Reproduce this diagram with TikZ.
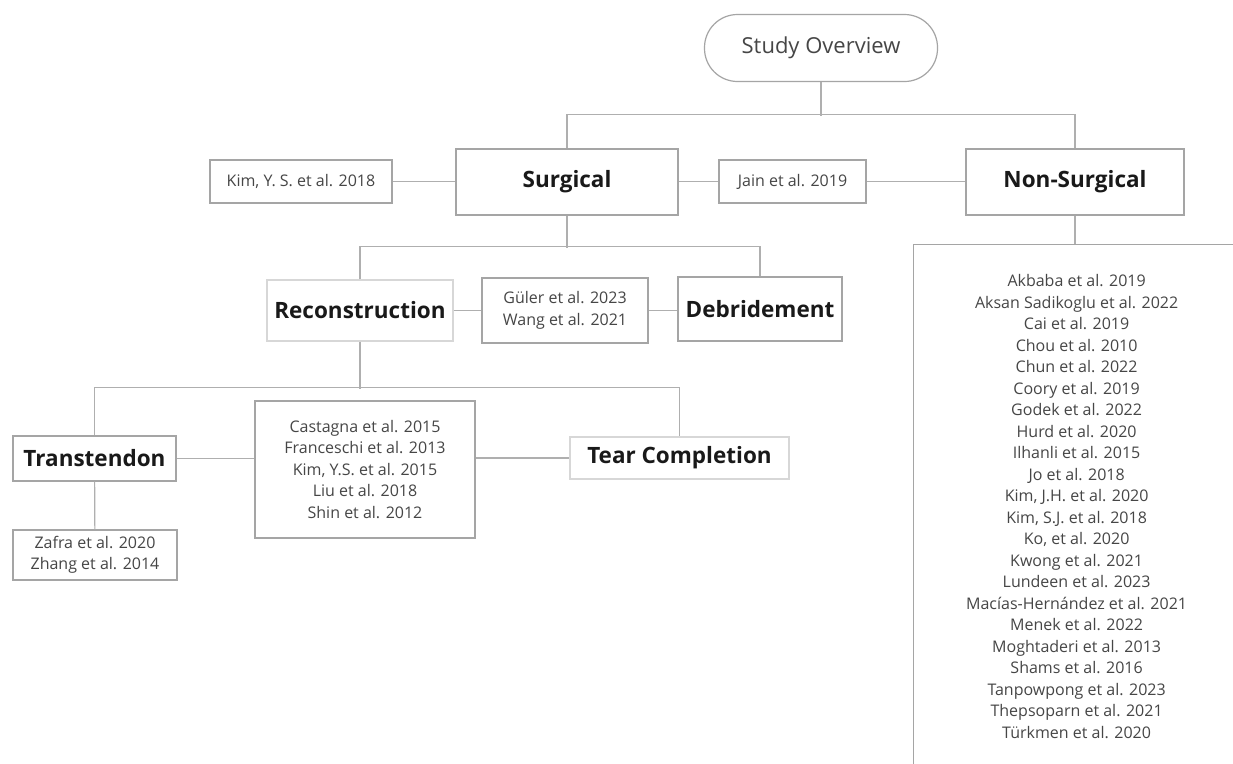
\documentclass[tikz,border=0pt]{standalone}
\usepackage{fontspec}
\setmainfont{Open Sans}
\definecolor{linec}{RGB}{175,175,175}
\definecolor{boxc}{RGB}{165,165,165}
\definecolor{lightboxc}{RGB}{215,215,215}
\definecolor{textc}{RGB}{70,70,70}
\definecolor{headc}{RGB}{25,25,25}
\begin{document}
\begin{tikzpicture}[x=1pt,y=-1pt,
  conn/.style={draw=linec, line width=1.2pt},
  box/.style={draw=boxc, line width=1.2pt, fill=white, inner sep=0pt, align=center},
  head/.style={box, font=\fontsize{22.5}{26}\selectfont\bfseries, text=headc},
  cite/.style={box, font=\fontsize{16}{21.5}\selectfont, text=textc},
  lightbox/.style={draw=lightboxc}]
\clip (0,0) rectangle (1233,763);
\fill[white] (0,0) rectangle (1233,763);

\node[box, rounded corners=33pt, minimum width=233pt, minimum height=67pt,
      font=\fontsize{22}{26}\selectfont, text=textc] (study) at (821,48) {Study Overview};
\node[head, minimum width=222pt, minimum height=66pt] (surg) at (567,182) {Surgical};
\node[cite, minimum width=182pt, minimum height=43pt] (kim) at (301,181.5) {Kim, Y. S. et al. 2018};
\node[cite, minimum width=147pt, minimum height=43pt] (jain) at (792.5,181.5) {Jain et al. 2019};
\node[head, minimum width=218pt, minimum height=66pt] (ns) at (1075,182) {Non-Surgical};

\node[head, lightbox, minimum width=186pt, minimum height=61pt] (recon) at (360,310.5) {Reconstruction};
\node[cite, minimum width=166pt, minimum height=65pt] (guler) at (565,310.5) {Güler et al. 2023\\Wang et al. 2021};
\node[head, minimum width=164pt, minimum height=64pt] (debr) at (760,309) {Debridement};

\node[head, minimum width=163pt, minimum height=45pt] (trans) at (94.5,458.5) {Transtendon};
\node[cite, minimum width=220pt, minimum height=137pt] (mid) at (365,469.5)
  {Castagna et al. 2015\\Franceschi et al. 2013\\Kim, Y.S. et al. 2015\\Liu et al. 2018\\Shin et al. 2012};
\node[head, lightbox, minimum width=219pt, minimum height=42pt] (tear) at (679.5,458) {Tear Completion};
\node[cite, minimum width=164pt, minimum height=50pt] (zafra) at (95,555) {Zafra et al. 2020\\Zhang et al. 2014};

\node[cite, anchor=north west, minimum width=326pt, minimum height=524pt] (list) at (913,244)
  {Akbaba et al. 2019\\Aksan Sadikoglu et al. 2022\\Cai et al. 2019\\Chou et al. 2010\\
   Chun et al. 2022\\Coory et al. 2019\\Godek et al. 2022\\Hurd et al. 2020\\
   Ilhanli et al. 2015\\Jo et al. 2018\\Kim, J.H. et al. 2020\\Kim, S.J. et al. 2018\\
   Ko, et al. 2020\\Kwong et al. 2021\\Lundeen et al. 2023\\Macías-Hernández et al. 2021\\
   Menek et al. 2022\\Moghtaderi et al. 2013\\Shams et al. 2016\\Tanpowpong et al. 2023\\
   Thepsoparn et al. 2021\\Türkmen et al. 2020};

% connectors
\draw[conn] (study.south) -- ++(0,34);
\draw[conn] (surg.north) -- ++(0,-34) -| (ns.north);
\draw[conn] (kim.east) -- (kim.east -| surg.west);
\draw[conn] (surg.east |- jain.west) -- (jain.west);
\draw[conn] (jain.east) -- (jain.east -| ns.west);
\draw[conn] (ns.south) -- (ns.south |- list.north);

\draw[conn] (surg.south) -- ++(0,32);
\draw[conn] (recon.north) -- ++(0,-33) -| (debr.north);
\draw[conn] (recon.east) -- (recon.east -| guler.west);
\draw[conn] (guler.east) -- (guler.east -| debr.west);

\draw[conn] (recon.south) -- ++(0,47);
\draw[conn] (trans.north) -- ++(0,-48) -| (tear.north);
\draw[conn] (trans.east) -- (trans.east -| mid.west);
\draw[conn] (mid.east |- tear.west) -- (tear.west);
\draw[conn] (trans) -- (zafra);
\end{tikzpicture}
\end{document}
